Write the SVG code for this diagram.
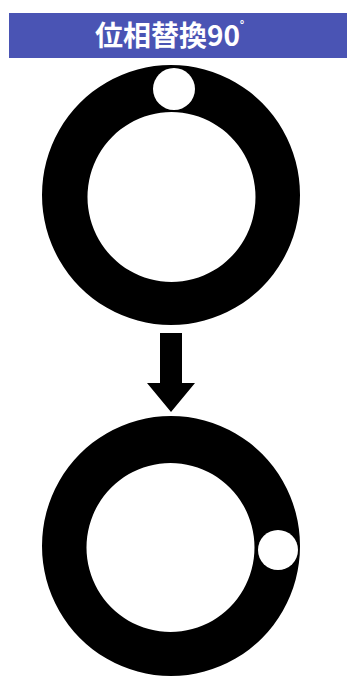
<svg xmlns="http://www.w3.org/2000/svg" width="347" height="677" viewBox="0 0 347 677">
<style>
.title{font-family:"Noto Sans CJK JP","Noto Sans CJK SC",sans-serif;font-weight:bold;font-size:28px;fill:#ffffff}
.ring{fill:#000000;fill-rule:evenodd}
.hole{fill:#ffffff}
</style>
<rect width="347" height="677" fill="#ffffff"/>
<g id="banner">
<rect x="9" y="13" width="338" height="45" fill="#4a54b4"/>
<text class="title" x="95" y="46">位相替換90<tspan font-size="14" dy="-14">˚</tspan></text>
</g>
<g id="ring-top">
<path class="ring" d="M171,65 a129,130 0 1,0 0.01,0 Z M171.5,112 a84,85 0 1,1 -0.01,0 Z"/>
<circle class="hole" cx="174" cy="89" r="21"/>
</g>
<g id="connectors">
<path d="M160,333 H182 V383 H195 L171,412 L147,383 H160 Z" fill="#000000"/>
</g>
<g id="ring-bottom">
<path class="ring" d="M171,416 a129,130 0 1,0 0.01,0 Z M170.5,463 a84,84.5 0 1,1 -0.01,0 Z"/>
<circle class="hole" cx="278" cy="550" r="20"/>
</g>
</svg>
